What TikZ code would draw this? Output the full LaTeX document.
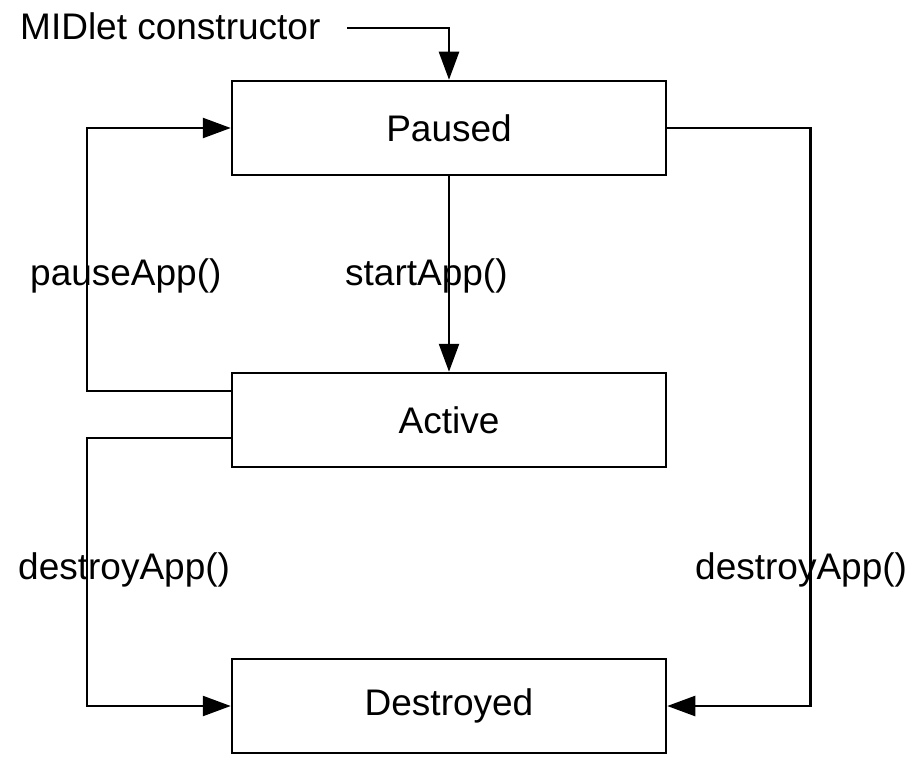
\documentclass[tikz,border=0pt]{standalone}
\usepackage{fontspec}
\setmainfont{Liberation Sans}
\usetikzlibrary{arrows.meta}

\tikzset{
	statebox/.style={draw,line width=2.5pt,minimum width=434pt,minimum height=94pt,inner sep=0pt},
	flow/.style={line width=2.5pt,-{Triangle[length=28pt,width=20pt]}},
	plain/.style={line width=2.5pt},
	lbl/.style={anchor=west,inner sep=0pt}
}

\begin{document}
\begin{tikzpicture}[x=1pt,y=-1pt,font=\fontsize{37}{44}\selectfont]
	\useasboundingbox (0,0) rectangle (909,757);

	%STATES
	\node[statebox] (paused) at (449,128) {Paused};
	\node[statebox] (active) at (449,420) {Active};
	\node[statebox] (destroyed) at (449,706) {Destroyed};

	%LABELS
	\node[lbl] (ctor) at (20,26) {MIDlet constructor};
	\node[lbl] (pause) at (30,276) {pauseApp()};
	\node[lbl] (start) at (345,276) {startApp()};
	\node[lbl] (destroyL) at (18,570) {destroyApp()};
	\node[lbl] (destroyR) at (695,570) {destroyApp()};

	%CONNECTORS
	\coordinate (ctorend) at (347,28);
	\draw[flow] (ctorend) -| (paused.north);
	\draw[flow] (paused.south) -- (active.north); %start
	\draw[flow] ([yshift=29pt]active.west) -- ++(-144,0) |- (paused.west); %pause
	\draw[flow] ([yshift=-18pt]active.west) -- ++(-144,0) |- (destroyed.west); %destroy
	\draw[flow] (paused.east) -- ++(143,0) |- (destroyed.east); %destroy
\end{tikzpicture}
\end{document}
